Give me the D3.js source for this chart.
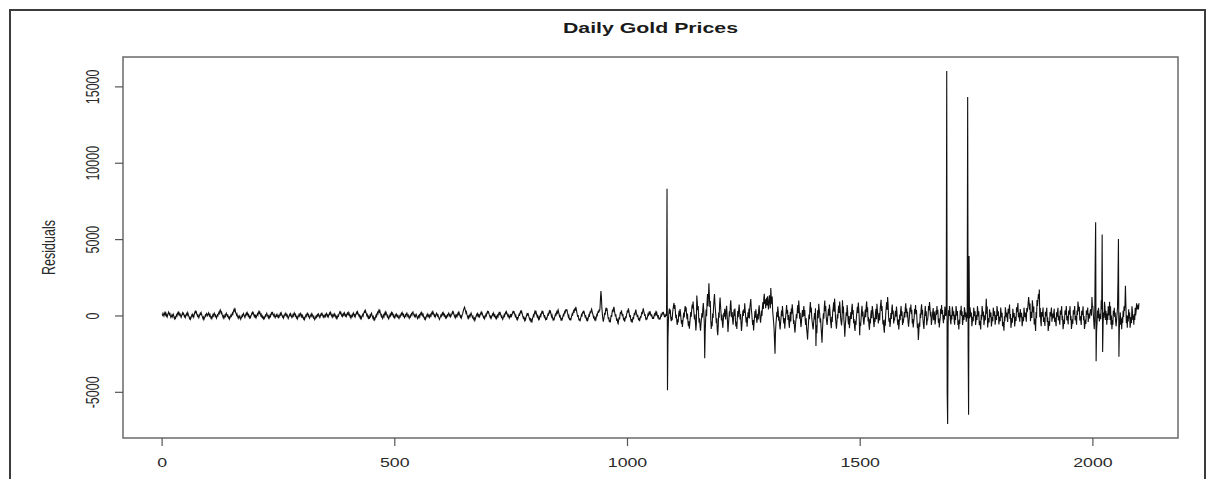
<!DOCTYPE html>
<html><head><meta charset="utf-8">
<script src="https://cdn.jsdelivr.net/npm/d3@7"></script>
<style>html,body{margin:0;padding:0;background:#fff;} svg{display:block;}</style>
</head><body>
<svg id="chart" width="1208" height="479"></svg>
<script>
const title = "Daily Gold Prices";
const yLabel = "Residuals";
const xTicks = [0, 500, 1000, 1500, 2000];
const yTicks = [-5000, 0, 5000, 10000, 15000];
const residuals = [
80,20,140,60,-30,110,190,70,150,-20,40,-90,10,120,230,170,60,110,-40,-130,-60,30,-80,20,90,-10,-150,-220,-120,-180,-60,40,-30,110,180,90,210,130,20,80,-50,-120,-20,60,170,90,140,30,-70,-10,
-130,-40,60,130,40,190,100,-20,-90,-210,-140,-250,-170,-60,30,-40,70,-20,-110,40,160,250,130,300,190,60,-30,80,-70,-150,-40,50,140,80,180,60,-30,-110,-210,-120,-260,-170,-80,20,-50,60,130,40,-20,80,
170,100,-30,50,-80,-170,-100,-200,-90,30,-40,90,160,60,-50,20,-110,-180,-60,40,-20,110,200,130,290,360,250,140,210,80,-30,-120,-40,-180,-90,10,-60,80,150,40,-30,70,-90,-160,-60,-230,-150,-40,30,-50,
40,150,80,230,340,420,300,380,210,130,20,90,-40,-130,-60,-190,-100,-30,-140,-250,-170,-80,10,-60,70,130,30,-50,-130,-30,80,150,60,180,90,-20,50,-90,-160,-60,-140,-30,40,150,210,110,170,50,-60,10,
-90,-20,-150,-60,40,110,30,180,260,150,220,100,-10,70,-80,-140,-50,-160,-230,-120,-190,-90,10,-50,60,140,40,-30,-120,-40,-180,-100,10,-60,90,170,100,240,130,40,-30,60,-80,-150,-70,20,-40,70,-30,-110,
-20,-130,-60,50,130,40,160,70,-30,-110,-40,-170,-90,10,90,30,140,60,-50,20,-110,-200,-120,-30,60,-10,120,50,-60,-140,-80,30,-40,100,170,80,-20,60,-70,-160,-90,-220,-130,-40,50,-30,80,140,40,-60,
30,-90,-20,-140,-230,-160,-260,-150,-60,20,-50,80,150,60,-30,40,-100,-180,-90,-10,60,-20,110,40,-70,-150,-60,-190,-280,-200,-110,-30,-120,-40,50,-20,90,30,-60,-140,-50,60,130,40,110,10,-80,-20,-130,-60,
20,-60,70,140,40,-50,30,-100,-20,80,160,90,200,110,10,-70,20,-110,-30,60,-10,100,30,-90,-170,-80,-190,-100,10,-40,80,150,230,140,200,80,-20,50,-70,-10,110,40,160,70,-40,20,-60,50,150,90,
190,60,130,-10,-90,-20,-160,-70,20,-50,100,170,60,-40,30,-80,40,130,210,120,240,150,50,-30,70,-100,-180,-80,-210,-130,-30,60,-20,120,200,280,170,310,210,100,-10,60,-90,-170,-80,-230,-120,10,-60,80,
150,30,-60,-170,-90,-260,-190,-290,-180,-70,30,-50,110,200,120,270,350,230,300,150,60,-50,30,-120,-200,-100,20,-60,100,180,90,230,140,20,-80,-10,-150,-220,-120,-40,60,-20,110,190,80,150,40,-70,20,-110,
-170,-60,40,-30,90,20,-80,-20,-140,-200,-110,-10,-70,50,130,60,180,90,-10,60,-80,-150,-60,30,-40,100,160,60,-50,20,-110,-190,-90,-10,-80,50,120,40,180,230,120,40,-50,30,-90,-20,80,10,-120,-200,
-110,-40,-130,20,-50,80,160,70,190,110,-10,60,-90,-160,-230,-140,-250,-160,-60,30,-40,90,20,-70,10,-130,-60,50,-20,130,210,120,240,150,40,-40,30,-100,-30,80,150,60,-40,20,-110,-180,-260,-170,-80,10,
-60,70,140,60,190,110,-10,50,-80,-160,-60,-150,-40,30,-40,90,160,70,-30,40,-90,-20,70,150,240,140,210,90,-20,-100,-10,-160,-80,20,-50,90,170,80,200,100,-20,-100,-30,-160,-70,40,120,260,380,470,
540,410,300,160,230,70,-40,-150,-60,-180,-90,20,-50,80,160,60,-40,-130,-60,-200,-270,-180,-320,-230,-120,-20,60,-10,130,60,-50,30,-90,-20,90,180,110,220,120,10,-70,-150,-80,-210,-120,-20,70,-10,150,240,
140,290,170,50,-40,-130,-60,-190,-100,10,90,20,160,70,-40,30,-110,-180,-80,-200,-110,10,-60,80,170,90,230,120,-10,-100,-40,-190,-260,-160,-60,40,-40,100,190,90,240,150,40,-50,30,-90,-180,-70,20,-60,
80,-40,60,180,250,140,280,160,40,-60,20,-130,-220,-110,-260,-170,-40,60,-30,150,240,130,330,210,90,-40,-150,-60,-230,-330,-210,-280,-130,-20,80,-10,160,70,-60,-170,-260,-160,-320,-450,-300,-380,-210,-90,30,-50,
120,250,160,310,190,40,-80,-10,-170,-250,-120,-210,-60,50,-30,140,230,120,300,170,40,-70,20,-160,-250,-140,-280,-170,-40,70,-20,150,260,140,330,200,60,-80,10,-150,-270,-160,-320,-190,-60,50,-40,130,220,90,
280,370,220,90,-50,40,-140,-260,-150,-340,-220,-90,30,-60,120,230,130,310,420,280,390,200,60,-90,-10,-200,-310,-180,-330,-190,-40,80,-20,160,280,170,360,470,310,570,410,240,80,-90,20,-190,-320,-200,-380,-240,
-110,20,-80,120,250,140,320,210,60,-70,30,-150,-260,-140,-380,-270,-120,10,-90,140,260,130,330,420,270,160,20,-110,-20,-210,-330,-190,-280,-120,30,-60,150,280,170,380,260,490,1100,1600,1200,500,100,-200,-400,-250,
-60,180,40,350,520,300,460,180,-60,-250,-120,-420,-280,-460,-200,30,-90,200,380,210,470,560,320,130,-60,80,-180,-350,-200,-480,-540,-300,-120,-260,40,220,80,330,160,-40,90,-160,-320,-150,-410,-240,-50,-170,60,180,
340,190,460,280,90,-120,20,-240,-400,-230,-470,-310,-110,-250,30,170,20,260,380,200,60,-90,40,-180,-310,-150,-380,-230,-40,-150,80,230,90,320,470,280,160,-30,80,-170,-300,-140,-260,-80,60,-40,150,270,120,200,
60,-60,80,-110,-220,-90,-230,-40,70,-50,140,230,90,180,20,-90,30,-160,-280,-140,-260,-120,20,-80,90,200,70,230,110,-30,60,-110,-20,70,-30,8300,-4900,-1500,-300,200,450,120,380,-150,-380,-90,-310,180,420,650,
820,430,690,210,-180,40,-390,-620,-250,-460,80,310,-60,420,180,-220,-540,-300,-760,-420,-90,190,-130,350,620,270,540,80,-250,120,-420,-700,-380,-860,-510,-130,220,-90,380,720,460,910,520,110,-260,60,-430,-980,-560,1300,
880,340,620,-90,-470,-180,-720,-1000,-540,-220,150,-140,480,820,260,-380,-2800,-1100,-260,390,-50,820,1400,610,1250,2100,1320,560,950,-240,-890,-420,-700,130,-160,560,1030,1400,760,350,-60,-510,-190,-1000,-1300,-720,190,-150,720,1180,
640,180,-330,60,-520,-810,-290,170,-90,430,160,-270,350,640,120,-430,-1080,-560,-180,280,-60,680,990,410,-120,220,-310,-610,-90,380,-40,450,-320,-720,-410,-890,-190,290,-120,380,720,230,-260,90,-480,-1020,-610,-130,320,-40,
410,170,790,320,-90,-450,-120,-730,-290,200,-140,460,-190,520,820,1080,470,160,-250,-620,-300,-980,-520,-80,290,-150,410,-60,-480,-230,110,-260,390,660,140,-200,-470,-110,320,-40,540,870,420,1130,1420,760,1060,480,900,1160,
650,1250,780,390,940,1320,870,480,1800,1150,730,1240,310,-60,-430,-850,-1640,-2500,-1180,-570,-190,240,-110,580,260,-340,-70,-620,-910,-480,-120,330,-50,610,190,-240,-530,-160,-860,-430,-60,310,680,120,350,-290,20,-540,-810,-140,
220,-390,460,110,730,360,-20,-560,-310,-850,-1120,-640,-280,90,-200,390,680,150,980,530,-210,170,-480,-760,-330,40,360,-90,280,620,-40,350,-330,-620,-180,-880,-1160,-1580,-960,-470,60,-250,490,880,190,520,-140,-430,-710,-920,
-500,-180,160,-260,470,-2000,-620,-1170,-90,360,-180,760,410,130,-460,-180,-790,-1250,-1780,-960,-380,140,-210,590,980,280,620,-60,-390,-620,-230,110,440,-20,720,360,-260,-540,-830,-90,-420,260,470,860,240,1100,650,-140,-530,-870,
-480,80,-190,370,640,160,910,470,-140,-420,-650,-250,1000,150,580,-240,-690,-1400,-760,-260,210,-40,680,330,-310,-580,-40,-840,-430,-120,220,-230,490,760,60,360,-510,-230,-780,-1020,-350,-620,-80,230,560,160,840,430,-140,-1300,
-470,-680,-190,320,640,-70,250,-360,-610,-240,80,380,-110,640,920,210,530,-390,-110,-680,-940,-230,-520,70,340,-180,610,380,90,-490,-760,-150,-420,170,440,-250,760,350,40,-530,-190,150,-320,420,730,1020,290,610,-40,-590,
-320,-860,-1130,-270,-680,130,540,870,370,1200,760,-40,-410,-180,-760,-470,160,-230,430,710,80,330,-520,-230,-260,40,310,-80,590,240,-340,-630,-260,-920,-540,60,-310,330,610,-40,270,-620,-310,-380,-90,230,-130,510,790,170,
460,-130,240,-420,-730,-360,-60,520,240,710,90,380,-520,-240,-790,-430,-160,420,140,690,60,350,-220,-830,-540,-1600,-1120,-460,-740,130,-170,420,730,70,380,-260,-620,-880,-310,190,610,-30,280,-640,-320,-290,40,620,330,880,
540,-70,240,-620,-360,-80,230,480,-310,260,20,-590,-270,330,40,620,110,380,-480,-190,-790,-460,-170,430,120,690,80,360,-230,-510,30,-260,580,320,-40,190,16000,-5100,-7100,-600,340,-40,620,280,-310,-580,30,-260,590,320,
-30,280,-320,-610,40,-290,620,330,-20,290,-630,-340,-910,-270,-560,340,50,630,-40,280,-620,-330,20,-290,540,310,-120,210,-410,130,-180,14300,-2000,-6500,3900,-200,540,230,-120,190,-710,-430,-90,-380,510,240,-40,270,-620,-330,
30,-290,610,320,-60,270,-640,-350,-570,-920,40,-280,620,330,-70,260,-630,-360,10,-310,420,1100,120,580,-790,-390,-170,-460,410,140,-120,190,-720,-430,-90,-380,510,220,-30,280,-610,-320,20,-290,620,330,-40,280,-590,-330,
-80,-380,520,230,-130,180,-710,-420,-660,-1000,-60,-370,530,240,-110,190,-170,-420,430,120,380,720,-230,90,-810,-520,-170,-480,430,140,-140,160,-720,-430,-70,-360,530,220,480,810,-120,190,-180,-410,420,130,-130,170,-700,-420,
-90,-380,510,220,-110,190,-120,-410,490,210,460,810,1210,880,380,790,-380,20,230,-170,990,610,190,580,-590,-210,-580,-1010,230,-180,1010,620,980,1400,1080,1700,-120,480,-380,-700,230,-80,180,520,-420,-130,-370,-690,240,-60,
180,510,-430,-120,-1010,-720,-370,-680,230,-60,190,520,-410,-120,120,-180,170,430,-420,-130,-380,-710,210,-90,260,500,-320,-30,-280,-610,320,30,280,610,-310,-20,-900,-620,-270,-560,330,40,290,620,-320,-30,-260,-590,330,50,
280,610,-310,-20,-880,-600,-250,-540,340,60,290,620,-320,-30,-280,-610,330,30,910,610,260,570,-330,-40,-290,-620,310,20,270,600,-320,-30,-890,-610,-260,-550,330,50,190,520,-430,-120,120,-190,180,410,290,-20,1200,610,
600,100,-400,-900,-300,3300,6100,-3000,-1000,-500,320,-180,500,200,-400,-100,100,-250,1000,400,5300,-2400,-600,200,-150,900,600,-300,300,0,-600,120,-300,600,0,300,900,-300,600,-600,0,-900,-300,-600,300,0,500,-100,200,-400,
-700,-300,100,500,2300,5000,-2700,-800,-300,200,-600,-200,-900,-100,-500,300,-100,600,300,700,1950,700,-500,0,-800,0,-400,400,-200,200,-800,-500,-100,-500,600,300,-300,0,-600,100,-300,500,0,300,800,400,500,700,400,800
];

const svg = d3.select("#chart");
const plot = {left: 123, right: 1178, top: 57, bottom: 438};
const SX = 1.42;
const font = "'Liberation Sans', Arial, Helvetica, sans-serif";

const n = residuals.length;
const xpad = (n - 1) * 0.04;
const x = d3.scaleLinear().domain([1 - xpad, n + xpad]).range([plot.left, plot.right]);
const [ymin, ymax] = d3.extent(residuals);
const ypad = (ymax - ymin) * 0.04;
const y = d3.scaleLinear().domain([ymin - ypad, ymax + ypad]).range([plot.bottom, plot.top]);

// outer frame
svg.append("rect").attr("x", 10).attr("y", 10).attr("width", 1195).attr("height", 500)
  .attr("fill", "none").attr("stroke", "#3c3c3c").attr("stroke-width", 2);

// series
svg.append("path").datum(residuals)
  .attr("d", d3.line().x((d, i) => x(i + 1)).y(d => y(d)))
  .attr("fill", "none").attr("stroke", "#111").attr("stroke-width", 1.1);

// plot box
svg.append("rect").attr("x", plot.left).attr("y", plot.top)
  .attr("width", plot.right - plot.left).attr("height", plot.bottom - plot.top)
  .attr("fill", "none").attr("stroke", "#6a6a6a").attr("stroke-width", 1.5);

// x axis
const gx = svg.append("g").attr("transform", `translate(0,${plot.bottom})`)
  .call(d3.axisBottom(x).tickValues(xTicks).tickSize(8).tickFormat(""));
gx.select(".domain").remove();
gx.selectAll(".tick line").attr("stroke", "#555").attr("stroke-width", 1.2);
gx.selectAll(".tick").append("text")
  .attr("transform", `translate(0,29) scale(${SX},1)`)
  .attr("text-anchor", "middle").attr("fill", "#2a2a2a")
  .style("font-family", font).style("font-size", "12.5px")
  .text(d => d);

// y axis
const gy = svg.append("g").attr("transform", `translate(${plot.left},0)`)
  .call(d3.axisLeft(y).tickValues(yTicks).tickSize(8).tickFormat(""));
gy.select(".domain").remove();
gy.selectAll(".tick line").attr("stroke", "#555").attr("stroke-width", 1.2);
gy.selectAll(".tick").append("text")
  .attr("transform", `translate(-24,0) scale(${SX},1) rotate(-90)`)
  .attr("text-anchor", "middle").attr("fill", "#2a2a2a")
  .style("font-family", font).style("font-size", "12.5px")
  .text(d => d);

// y label
svg.append("text")
  .attr("transform", `translate(55,${(plot.top + plot.bottom) / 2}) scale(${SX},1) rotate(-90)`)
  .attr("text-anchor", "middle").attr("fill", "#2a2a2a")
  .style("font-family", font).style("font-size", "12.5px")
  .text(yLabel);

// title
svg.append("text")
  .attr("transform", `translate(${(plot.left + plot.right) / 2},33) scale(${SX},1)`)
  .attr("text-anchor", "middle").attr("fill", "#1a1a1a")
  .style("font-family", font).style("font-size", "15px").style("font-weight", "bold")
  .text(title);
</script>
</body></html>
